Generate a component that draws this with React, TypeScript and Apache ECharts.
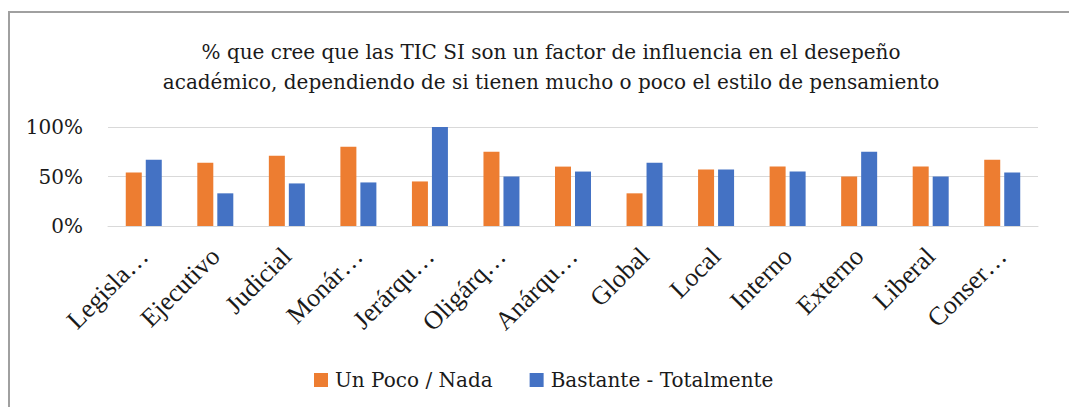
import React, { useEffect, useRef } from "react";
import * as echarts from "echarts";

const categories = [
  "Legisla…",
  "Ejecutivo",
  "Judicial",
  "Monár…",
  "Jerárqu…",
  "Oligárq…",
  "Anárqu…",
  "Global",
  "Local",
  "Interno",
  "Externo",
  "Liberal",
  "Conser…",
];

const poco = [54, 64, 71, 80, 45, 75, 60, 33, 57, 60, 50, 60, 67];
const bastante = [67, 33, 43, 44, 100, 50, 55, 64, 57, 55, 75, 50, 54];

const yTicks = [0, 50, 100];

const seriesNames = ["Un Poco / Nada", "Bastante - Totalmente"];
const titleLines = [
  "% que cree que las TIC SI son un factor de influencia en el desepeño",
  "académico, dependiendo de si tienen mucho o poco el estilo de pensamiento",
];

const FONT_ROT = "Liberation Serif";
const FONT = "DejaVu Serif";

export default function App() {
  const ref = useRef<HTMLDivElement>(null);

  useEffect(() => {
    document.body.style.margin = "0";
    if (!ref.current) return;
    const chart = echarts.init(ref.current, null, { renderer: "svg" });
    chart.setOption({
      animation: false,
      title: {
        text: titleLines.join("\n"),
        left: 546,
        top: 32,
        textAlign: "center",
        textStyle: {
          fontFamily: FONT,
          fontSize: 20,
          fontWeight: "normal",
          color: "#1a1a1a",
          lineHeight: 30,
        },
      },
      legend: {
        left: 309,
        top: 365,
        itemWidth: 14,
        itemHeight: 14,
        itemGap: 37,
        icon: "rect",
        textStyle: { fontFamily: FONT, fontSize: 20, color: "#1a1a1a", padding: [0, 0, 0, 2] },
        data: seriesNames,
      },
      grid: { left: 108, right: 31, top: 127, bottom: 181, containLabel: false },
      xAxis: {
        type: "category",
        data: categories,
        axisLine: { show: true, lineStyle: { color: "#D9D9D9", width: 1 } },
        axisTick: { show: false },
        axisLabel: {
          interval: 0,
          rotate: 45,
          margin: 26,
          fontFamily: FONT_ROT,
          fontSize: 26,
          color: "#1a1a1a",
        },
      },
      yAxis: {
        type: "value",
        min: yTicks[0],
        max: yTicks[yTicks.length - 1],
        interval: 50,
        axisLine: { show: false },
        axisTick: { show: false },
        splitLine: { lineStyle: { color: "#D9D9D9", width: 1 } },
        axisLabel: {
          formatter: "{value}%",
          margin: 25,
          fontFamily: FONT,
          fontSize: 20,
          color: "#1a1a1a",
        },
      },
      series: [
        {
          name: seriesNames[0],
          type: "bar",
          data: poco,
          barWidth: 16,
          barGap: "25%",
          itemStyle: { color: "#ED7D31" },
        },
        {
          name: seriesNames[1],
          type: "bar",
          data: bastante,
          barWidth: 16,
          itemStyle: { color: "#4472C4" },
        },
      ],
      graphic: [
        {
          type: "rect",
          shape: { x: 9, y: 12, width: 1200, height: 600 },
          style: { fill: "none", stroke: "#A0A0A0", lineWidth: 2 },
          silent: true,
        },
      ],
    });
    return () => chart.dispose();
  }, []);

  return <div ref={ref} style={{ width: 1069, height: 407 }} />;
}
